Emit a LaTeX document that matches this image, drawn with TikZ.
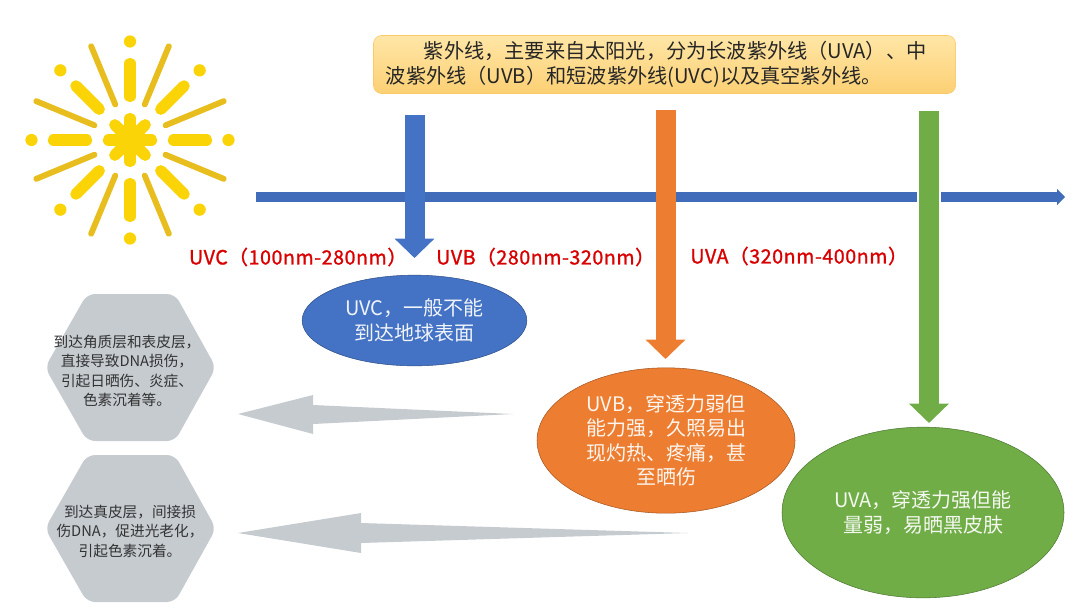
\documentclass[tikz,border=0pt]{standalone}
\usepackage{fontspec}
\setmainfont{Noto Sans CJK SC}
\newfontfamily\rangefont[FakeBold=1.2,LetterSpace=3]{Noto Sans CJK SC}
\usetikzlibrary{arrows.meta,shapes.geometric}
\definecolor{uvcblue}{HTML}{4472C4}
\definecolor{uvborange}{HTML}{ED7D31}
\definecolor{uvagreen}{HTML}{70AD47}
\definecolor{hexgrey}{HTML}{C6CBD0}
\definecolor{sunthick}{HTML}{FBD408}
\definecolor{sunthin}{HTML}{E8BE1E}
\definecolor{notetop}{HTML}{FFE6A6}
\definecolor{notebot}{HTML}{FCD074}
\begin{document}
\begin{tikzpicture}[
x=0.75pt, y=-0.75pt,
    notebox/.style = {rectangle, rounded corners=6pt, draw=notebot!90!orange,
                top color=notetop, bottom color=notebot,
                minimum width=436.5pt, minimum height=43.5pt,
                text width=418pt, inner xsep=9pt, inner ysep=0pt, align=left,
                font=\fontsize{15.15pt}{18.6pt}\selectfont, text=black!85},
    band/.style = {ellipse, draw=#1!70!black, fill=#1, inner sep=0pt, align=center,
                text=white!92!#1, font=\fontsize{15pt}{18.4pt}\selectfont,
                execute at begin node={\rule{0pt}{20.5pt}}},
    rangelabel/.style = {text=red!85!black, font=\fontsize{14.7pt}{16pt}\selectfont\rangefont},
    ray/.style = {#1, line cap=round},
    drop/.style = {draw=#1, line width=15pt,
                -{Triangle[length=14.5pt,width=29pt]}},
    hexa/.style = {fill=hexgrey, rounded corners=6pt},
    hextext/.style = {align=center, text=black!80,
                font=\fontsize{11pt}{14.6pt}\selectfont},
    greyarrow/.style = {fill=hexgrey},
                    ]
\useasboundingbox (0,0) rectangle (1080,608);
% sun
\begin{scope}[shift={(130,140)}]
\foreach \a in {0,45,...,315} {
    \draw[ray=sunthick, line width=8.5pt] (\a:0) -- (\a:21.5);
    \draw[ray=sunthick, line width=8.5pt] (\a:43.5) -- (\a:76.5);
    \fill[sunthick] (\a:98.5) circle (4.6pt);
    \draw[ray=sunthin, line width=4.4pt] (\a+22.5:38.5) -- (\a+22.5:101.5);
}
\fill[sunthick] (0,0) circle (12pt);
\end{scope}
% axis
\coordinate (axisL) at (256,197);
\coordinate (axisR) at (1065,197);
\draw[uvcblue!95!black, line width=7.5pt,
    -{Triangle[length=6pt,width=12pt]}] (axisL) -- (axisR);
% top note
\node[notebox] (uvnote) at (664.5,64.5)
    {\hspace*{28.5pt}紫外线，主要来自太阳光，分为长波紫外线（UVA）、中\\
     波紫外线（UVB）和短波紫外线(UVC)以及真空紫外线。};
% bands
\node[band=uvcblue, minimum width=168.5pt, minimum height=68pt] (uvc) at (414.5,320.5)
    {UVC，一般不能\\到达地球表面};
\node[band=uvborange, minimum width=193.5pt, minimum height=109pt] (uvb) at (666,440.5)
    {UVB，穿透力弱但\\能力强，久照易出\\现灼热、疼痛，甚\\至晒伤};
\node[band=uvagreen, minimum width=211.5pt, minimum height=128pt] (uva) at (923,512.5)
    {UVA，穿透力强但能\\量弱，易晒黑皮肤};
% range labels
\node[rangelabel] (rangeC) at (298,257) {UVC（100nm-280nm）};
\node[rangelabel] (rangeB) at (545.5,257) {UVB（280nm-320nm）};
\node[rangelabel] (rangeA) at (799,256) {UVA（320nm-400nm）};
% down arrows
\coordinate (dropC) at (414.5,115);
\coordinate (dropB) at (665.5,110);
\coordinate (dropA) at (929,111);
\coordinate (tipC) at (414.5,258);
\coordinate (tipB) at (665.5,359);
\coordinate (tipA) at (929,423);
\draw[drop=uvcblue] (dropC) -- (tipC);
\draw[drop=uvborange] (dropB) -- (tipB);
\draw[drop=uvagreen, preaction={draw=white, line width=18.5pt, -}] (dropA) -- (tipA);
% hexagons
\foreach \n/\c in {skinA/367.5,skinB/528.5} {
    \path[hexa] (87,\c-73.5) -- (175,\c-73.5) -- (216,\c) -- (175,\c+73.5)
        -- (87,\c+73.5) -- (45,\c) -- cycle;
}
\node[hextext] (textA) at (127,371)
    {到达角质层和表皮层，\\直接导致DNA损伤，\\引起日晒伤、炎症、\\色素沉着等。};
\node[hextext] (textB) at (130,531)
    {到达真皮层，间接损\\伤DNA，促进光老化，\\引起色素沉着。};
% grey arrows
\coordinate (tailUp) at (513,414);
\coordinate (headUp) at (238,414);
\coordinate (tailLow) at (688,533);
\coordinate (headLow) at (238,533);
\fill[greyarrow] (tailUp) -- (313,424) -- (313,434) -- (headUp) -- (313,395) -- (313,405) -- cycle;
\fill[greyarrow] (tailLow) -- (361,543) -- (361,553) -- (headLow) -- (361,513) -- (361,523) -- cycle;
\end{tikzpicture}
\end{document}
